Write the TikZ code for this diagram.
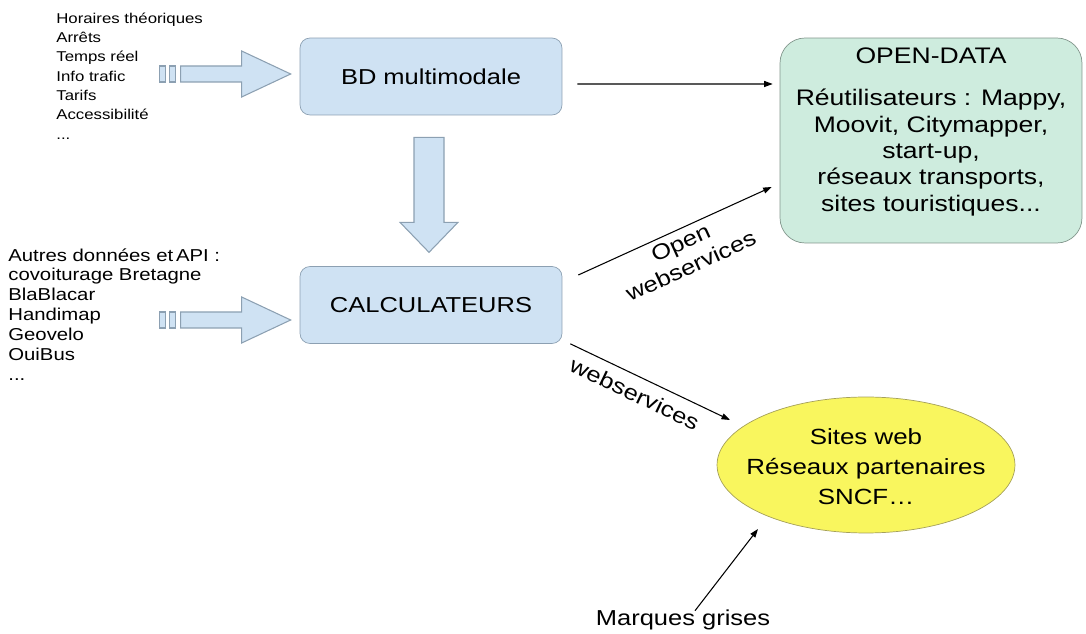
\documentclass[tikz,border=0pt]{standalone}
\usepackage{fontspec}
\setmainfont{Liberation Sans}[FakeStretch=1.18]
\usetikzlibrary{positioning,calc,shapes.geometric,arrows.meta}

\definecolor{boxblue}{RGB}{207,226,243}
\definecolor{boxedge}{RGB}{140,160,178}
\definecolor{opengreen}{RGB}{206,236,222}
\definecolor{openedge}{RGB}{130,150,140}
\definecolor{siteyellow}{RGB}{249,246,94}
\definecolor{siteedge}{RGB}{165,160,90}

\begin{document}
\begin{tikzpicture}[x=0.02cm, y=-0.02cm,
    box/.style={draw=boxedge, fill=boxblue, rounded corners=0.2cm,
      minimum width=5.24cm, minimum height=1.54cm, font=\fontsize{12.3}{14}\selectfont},
    fat/.style={draw=boxedge, fill=boxblue, line width=0.6pt},
    link/.style={-{Triangle[length=0.17cm,width=0.12cm]}, line width=0.6pt},
    lbl/.style={font=\fontsize{12.3}{14.2}\selectfont, align=center, inner sep=1pt}]
  \useasboundingbox (0,0) rectangle (1086,634);

  \node[box] (bd) at (431,76.5) {BD multimodale};
  \node[box] (calcul) at (431,305) {CALCULATEURS};
  \node[draw=openedge, fill=opengreen, rounded corners=0.5cm,
    minimum width=6.04cm, minimum height=4.1cm] (open) at (931,140.5) {};
  \node[draw=siteedge, fill=siteyellow, ellipse,
    minimum width=5.96cm, minimum height=2.72cm] (sites) at (866,465) {};

  \node[anchor=north, inner sep=0, align=center, font=\fontsize{12.8}{15}\selectfont]
    (opentxt) at ($(open.north)+(0,10)$) {OPEN-DATA\\[9pt] Réutilisateurs : Mappy,\\ Moovit, Citymapper,\\
    start-up,\\ réseaux transports,\\ sites touristiques...};
  \node[align=center, font=\fontsize{12.5}{17}\selectfont] (sitestxt) at ($(sites.center)+(0,2)$)
    {Sites web\\ Réseaux partenaires\\ SNCF…};

  \node[anchor=north west, inner sep=0, align=left, font=\fontsize{8.1}{11}\selectfont] (sources)
    at (56,12.5) {Horaires théoriques\\ Arrêts\\ Temps réel\\ Info trafic\\ Tarifs\\ Accessibilité\\ ...};
  \node[anchor=north west, inner sep=0, align=left, font=\fontsize{9.8}{11.3}\selectfont] (autres)
    at (8,248) {Autres données et\,API :\\ covoiturage Bretagne\\ BlaBlacar\\ Handimap\\ Geovelo\\ OuiBus\\ ...};
  \node[font=\fontsize{12.3}{14}\selectfont] (marques) at (683,620) {Marques grises};

  \foreach \n/\dy in {bd/-2.5, calcul/15}{
    \begin{scope}[shift={(\n.west)}]
      \draw[fat] (-140,\dy-8) rectangle (-134,\dy+8);
      \draw[fat] (-130,\dy-8) rectangle (-124,\dy+8);
      \draw[fat] (-119,\dy-8) -- (-58,\dy-8) -- (-58,\dy-23) -- (-9,\dy)
        -- (-58,\dy+23) -- (-58,\dy+8) -- (-119,\dy+8) -- cycle;
    \end{scope}
  }
  \draw[fat, shift={(bd.south)}] (-17,22) -- (13,22) -- (13,107) -- (27,107)
    -- (-2,137) -- (-31,107) -- (-17,107) -- cycle;

  \draw[link] ($(bd.east)+(15,7.5)$) -- ($(open.west)+(-7,-56.5)$);
  \draw[link] ($(calcul.east)+(16,-30)$) -- node[lbl, sloped, below=2pt, midway] {Open\\ webservices}
    ($(open.west)+(-8,46.5)$);
  \draw[link] ($(calcul.south east)+(8,0)$) -- node[lbl, sloped, below=4pt, pos=0.45] {webservices}
    ($(sites.center)+(-136,-45)$);
  \draw[link] ($(marques.north)+(12,7)$) -- ($(sites.center)+(-108,64)$);
\end{tikzpicture}
\end{document}
